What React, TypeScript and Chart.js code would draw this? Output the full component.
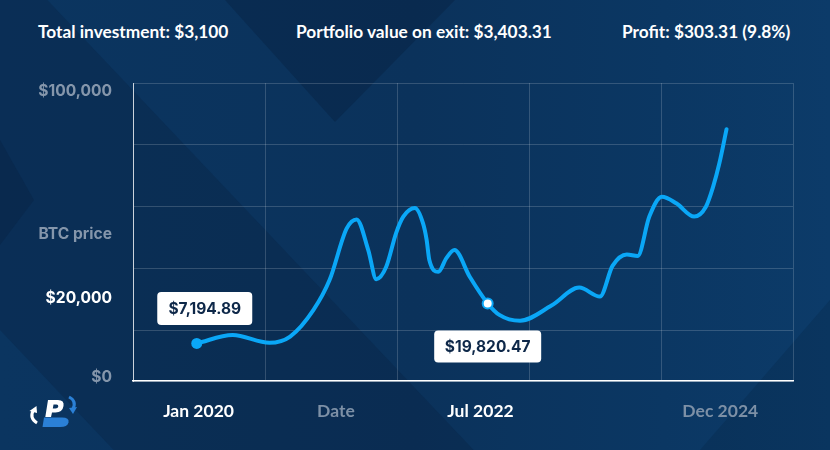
import React, { useEffect, useRef } from "react";
import { Chart, registerables } from "chart.js";

Chart.register(...registerables);

// Months since Jan 2020
const months = [
  0, 4.0, 8.1, 10.4, 13.0, 14.8, 16.7, 17.8, 19.1, 20.0, 21.1, 22.2, 23.0, 24.3,
  25.2, 25.6, 25.9, 26.9, 27.8, 28.7, 30.4, 32.4, 33.7, 36.0, 39.5, 42.6,
  44.9, 46.3, 47.9, 49.1, 50.4, 51.8, 53.4, 55.4, 56.7, 57.5, 58.2, 59.0,
];
// BTC price (USD)
const prices = [
  16000, 18700, 16200, 18200, 26800, 36500, 53100, 56000, 46100, 36700, 40700,
  51600, 56900, 59700, 54700, 49400, 42900, 39100, 43500, 46100, 37500, 28900,
  25200, 23300, 28200, 34000, 31100, 41000, 44700, 44200, 56900, 63300, 61200,
  56900, 60100, 66500, 74100, 85100,
];

const gridMonths = [-7.1, 7.6, 22.3, 37.0, 51.7, 66.4];
const gridPrices = [3870, 20000, 40000, 60000, 80000, 100000];

const xLabels = ["Jan 2020", "Date", "Jul 2022", "Dec 2024"];
const xLabelMonths = [0.2, 15.5, 31.6, 58.3];
const xLabelHighlight = [true, false, true, false];

const yLabels = ["$100,000", "BTC price", "$20,000", "$0"];
const yLabelPrices = [97400, 51300, 30600, 5100];
const yLabelHighlight = [false, false, true, false];

const headerTexts = [
  "Total investment: $3,100",
  "Portfolio value on exit: $3,403.31",
  "Profit: $303.31 (9.8%)",
];

const calloutTexts = ["$7,194.89", "$19,820.47"];
const calloutIndex = [0, 21];

const LINE = "#0aa7f7";

export default function App() {
  const ref = useRef<HTMLCanvasElement | null>(null);

  useEffect(() => {
    const canvas = ref.current;
    if (!canvas) return;

    const labelsPlugin = {
      id: "labels",
      afterDatasetsDraw(chart: any) {
        const { ctx, scales } = chart;
        const xs = scales.x;
        const ys = scales.y;
        ctx.save();
        ctx.textAlign = "right";
        ctx.textBaseline = "middle";
        yLabels.forEach((t, i) => {
          ctx.font = "700 15.6px Inter";
          ctx.fillStyle = yLabelHighlight[i] ? "#ffffff" : "#8596ab";
          ctx.fillText(t, 112, ys.getPixelForValue(yLabelPrices[i]));
        });
        ctx.textAlign = "center";
        xLabels.forEach((t, i) => {
          ctx.font = "700 17.5px Lato";
          ctx.fillStyle = xLabelHighlight[i] ? "#ffffff" : "#7d90a6";
          ctx.fillText(t, xs.getPixelForValue(xLabelMonths[i]), 411);
        });
        const meta = chart.getDatasetMeta(0);
        calloutTexts.forEach((t, i) => {
          const pt = meta.data[calloutIndex[i]];
          let cx: number, cy: number, w: number, h: number;
          if (i === 0) {
            cx = pt.x + 8; cy = pt.y - 35; w = 95; h = 33;
          } else {
            cx = pt.x; cy = pt.y + 43; w = 107; h = 32;
          }
          ctx.fillStyle = "#ffffff";
          ctx.beginPath();
          ctx.roundRect(cx - w / 2, cy - h / 2, w, h, 4);
          ctx.fill();
          ctx.font = "700 15.5px Inter";
          ctx.fillStyle = "#0e2849";
          ctx.textAlign = "center";
          ctx.textBaseline = "middle";
          ctx.fillText(t, cx, cy + 1);
        });
        ctx.restore();
      },
    };

    const chart = new Chart(canvas, {
      type: "line",
      data: {
        datasets: [
          {
            data: months.map((m, i) => ({ x: m, y: prices[i] })),
            borderColor: LINE,
            borderWidth: 4,
            borderCapStyle: "round",
            cubicInterpolationMode: "monotone",
            pointRadius: (c: any) =>
              c.dataIndex === 0 ? 5.5 : c.dataIndex === calloutIndex[1] ? 5 : 0,
            pointBackgroundColor: (c: any) =>
              c.dataIndex === calloutIndex[1] ? "#ffffff" : LINE,
            pointBorderColor: LINE,
            pointBorderWidth: (c: any) => (c.dataIndex === calloutIndex[1] ? 2 : 0),
            clip: false,
          } as any,
        ],
      },
      options: {
        animation: false,
        responsive: false,
        maintainAspectRatio: false,
        layout: { padding: { left: 133, right: 37, top: 83, bottom: 69 } },
        plugins: { legend: { display: false }, tooltip: { enabled: false } },
        scales: {
          x: {
            type: "linear",
            min: gridMonths[0],
            max: gridMonths[gridMonths.length - 1],
            afterBuildTicks: (s: any) => {
              s.ticks = gridMonths.map((v) => ({ value: v }));
            },
            ticks: { display: false },
            grid: { color: "rgba(255,255,255,0.17)", drawTicks: false, lineWidth: 1 },
            border: { color: "#ffffff", width: 1.5 },
          },
          y: {
            type: "linear",
            min: gridPrices[0],
            max: gridPrices[gridPrices.length - 1],
            afterBuildTicks: (s: any) => {
              s.ticks = gridPrices.map((v) => ({ value: v }));
            },
            ticks: { display: false },
            grid: { color: "rgba(255,255,255,0.17)", drawTicks: false, lineWidth: 1 },
            border: { color: "rgba(255,255,255,0.75)", width: 1 },
          },
        },
      } as any,
      plugins: [labelsPlugin],
    });
    return () => chart.destroy();
  }, []);

  const poly = (pts: string, color: string) => (
    <div
      style={{
        position: "absolute",
        inset: 0,
        background: color,
        clipPath: `polygon(${pts})`,
      }}
    />
  );

  const headerLeft = [38, 296, 622];

  return (
    <div
      style={{
        position: "fixed",
        left: 0,
        top: 0,
        width: 830,
        height: 450,
        overflow: "hidden",
        background: "linear-gradient(90deg, #0b3560 0%, #0b325b 50%, #0b3763 80%, #0c3b69 100%)",
      }}
    >
      {poly("0px -50px, 540px 520px, 180px 520px, 0px 330px", "rgba(6,28,54,0.25)")}
      {poly("225px 0px, 455px 0px, 335px 122px", "rgba(6,28,54,0.3)")}
      {poly("0px 140px, 34px 200px, 0px 245px", "rgba(6,28,54,0.25)")}
      {poly("830px 300px, 830px 450px, 700px 450px", "rgba(6,28,54,0.2)")}
      {headerTexts.map((t, i) => (
        <div
          key={i}
          style={{
            position: "absolute",
            left: headerLeft[i],
            top: 21,
            fontFamily: "Lato",
            fontWeight: 700,
            fontSize: 17.3,
            lineHeight: "22px",
            color: "#ffffff",
            whiteSpace: "nowrap",
          }}
        >
          {t}
        </div>
      ))}
      <canvas
        ref={ref}
        width={830}
        height={450}
        style={{ position: "absolute", left: 0, top: 0, width: 830, height: 450 }}
      />
      <svg
        width={100}
        height={70}
        style={{ position: "absolute", left: 0, top: 380 }}
        viewBox="0 380 100 70"
      >
        <path d="M44 417.5 H62 Q69.5 417.5 68.5 422.5 Q67.5 427 60 427 H42.5 Z" fill="#2b80d6" />
        <path
          d="M48 400 H58 Q64.5 400 63.5 406 Q62.5 412.5 55.5 412.5 H52 L51 417 H45.3 Z M53.5 404.5 L52.8 408.5 H55.5 Q58 408.5 58.3 406.5 Q58.5 404.5 56.5 404.5 Z"
          fill="#ffffff"
          fillRule="evenodd"
        />
        <path d="M37 423 Q29 418 33.5 410" stroke="#ffffff" strokeWidth={3} fill="none" />
        <path d="M29.5 411 L36.5 406 L37 413 Z" fill="#ffffff" />
        <path d="M69 397 Q77 401 73 409" stroke="#2b80d6" strokeWidth={3} fill="none" />
        <path d="M69 408 L77 407 L73 414 Z" fill="#2b80d6" />
      </svg>
    </div>
  );
}
